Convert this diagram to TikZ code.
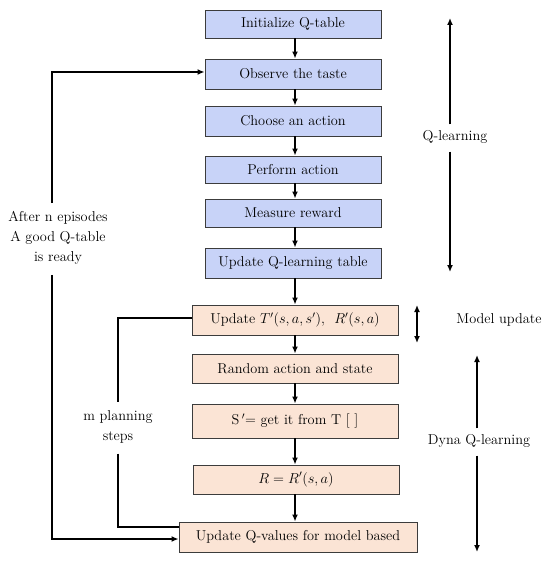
\documentclass[tikz,border=0pt]{standalone}
\usetikzlibrary{arrows.meta}
\definecolor{bluefill}{RGB}{200,211,248}
\definecolor{orangefill}{RGB}{251,228,213}
\definecolor{boxline}{RGB}{60,60,60}
\begin{document}
\begin{tikzpicture}[x=1pt,y=-1pt,
  every node/.style={font=\fontsize{14.3}{17}\selectfont},
  bbox/.style={draw=boxline,line width=0.9pt,fill=bluefill,minimum width=176pt,inner sep=0pt},
  obox/.style={draw=boxline,line width=0.9pt,fill=orangefill,minimum width=206pt,inner sep=0pt},
  conn/.style={line width=1.6pt,-{Latex[length=7pt,width=6pt]}},
  plain/.style={line width=1.6pt},
  dbl/.style={line width=1.6pt,{Latex[length=7pt,width=6pt]}-{Latex[length=7pt,width=6pt]}},
  lbl/.style={align=center,inner sep=0pt}]
\useasboundingbox (0,0) rectangle (550,561);
% Q-learning boxes
\node[bbox,minimum height=28pt] (b1) at (293,24) {Initialize Q-table};
\node[bbox,minimum height=30pt] (b2) at (293,74) {Observe the taste};
\node[bbox,minimum height=30pt] (b3) at (293,121) {Choose an action};
\node[bbox,minimum height=27pt] (b4) at (293,169.5) {Perform action};
\node[bbox,minimum height=28pt] (b5) at (293,213) {Measure reward};
\node[bbox,minimum height=30pt] (b6) at (293,263) {Update Q-learning table};
% Dyna boxes
\node[obox,minimum height=30pt] (b7) at (295,320) {Update $T'(s,a,s')$,~ $R'(s,a)$};
\node[obox,minimum height=29pt] (b8) at (295,368.5) {Random action and state};
\node[obox,minimum height=34pt] (b9) at (295,421) {S\,$'$= get it from T [ ]};
\node[obox,minimum height=29pt] (b10) at (296,479.5) {$R = R'(s,a)$};
\node[obox,minimum width=238pt,minimum height=30pt] (b11) at (298,537) {Update Q-values for model based};
% main flow
\draw[conn] (b1.south -| 295,0) -- (b2.north -| 295,0);
\draw[conn] (b2.south -| 295,0) -- (b3.north -| 295,0);
\draw[conn] (b3.south -| 295,0) -- (b4.north -| 295,0);
\draw[conn] (b4.south -| 295,0) -- (b5.north -| 295,0);
\draw[conn] (b5.south -| 295,0) -- (b6.north -| 295,0);
\draw[conn] (b6.south -| 295,0) -- (b7.north -| 295,0);
\draw[conn] (b7.south -| 295,0) -- (b8.north -| 295,0);
\draw[conn] (b8.south -| 295,0) -- (b9.north -| 295,0);
\draw[conn] (b9.south -| 295,0) -- (b10.north -| 295,0);
\draw[conn] (b10.south -| 295,0) -- (b11.north -| 295,0);
% outer loop
\node[lbl] (ep) at (58,238) {After n episodes\\[3pt]A good Q-table\\[3pt]is ready};
\coordinate (o1) at (52,72);
\coordinate (o2) at (52,539);
\draw[conn] ([yshift=8pt]o1 |- ep.north) -- (o1) -- (o1 -| b2.west);
\draw[conn] ([yshift=-10pt]o2 |- ep.south) -- (o2) -- (o2 -| b11.west);
% inner loop
\node[lbl] (mp) at (118,427) {m planning\\[3pt]steps};
\coordinate (i1) at (118,318);
\coordinate (i2) at (118,527);
\draw[plain] (i1 -| b7.west) -- (i1) -- ([yshift=8pt]i1 |- mp.north);
\draw[plain] ([yshift=-10pt]i2 |- mp.south) -- (i2) -- (i2 -| b11.west);
% right side annotations
\node[lbl] (ql) at (455,137) {Q-learning};
\coordinate (qa) at (450,18);
\coordinate (qb) at (450,272);
\draw[conn] ([yshift=6pt]qa |- ql.north) -- (qa);
\draw[conn] ([yshift=-8pt]qb |- ql.south) -- (qb);
\node[lbl] (mu) at (499,320) {Model update};
\coordinate (ma) at (417,305);
\coordinate (mb) at (417,343);
\draw[dbl] (ma) -- (mb);
\node[lbl] (dq) at (479,441) {Dyna Q-learning};
\coordinate (da) at (477,355);
\coordinate (db) at (477,552);
\draw[conn] ([yshift=6pt]da |- dq.north) -- (da);
\draw[conn] ([yshift=-8pt]db |- dq.south) -- (db);
\end{tikzpicture}
\end{document}
